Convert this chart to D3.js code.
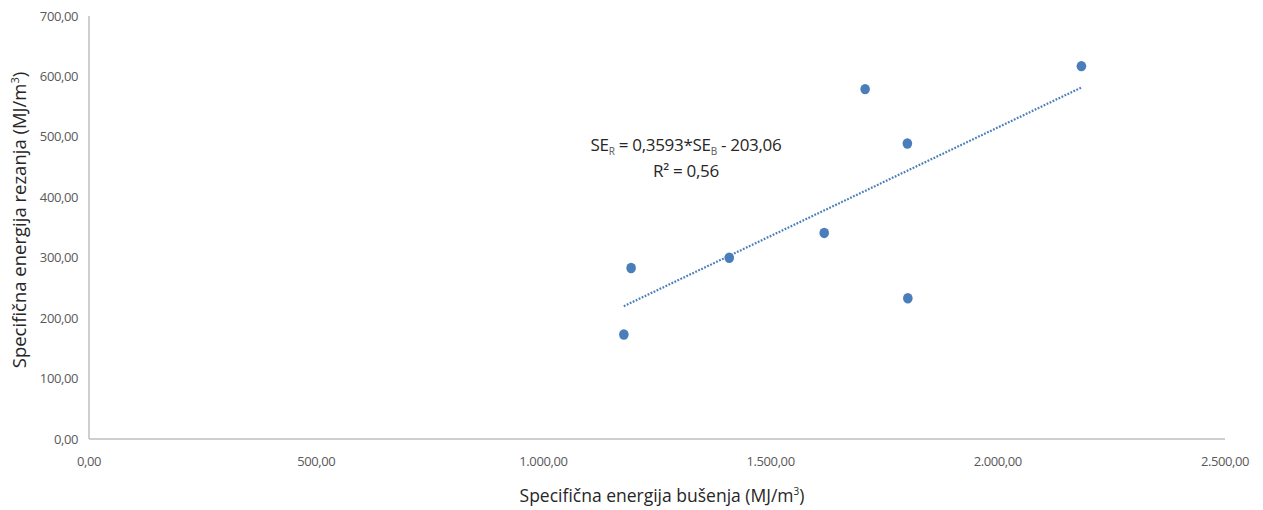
<!DOCTYPE html>
<html><head><meta charset="utf-8">
<script src="https://cdn.jsdelivr.net/npm/d3@7"></script>
<style>body{margin:0;background:#fff}text{font-family:"Open Sans",Lato,sans-serif}</style>
</head><body><svg id="c" width="1263" height="510"></svg>
<script>
const xValues = [1177, 1193, 1409, 1618, 1708, 1801, 1802, 2184];
const yValues = [173, 283, 300, 341, 579, 489, 233, 617];
const xTicks = [0, 500, 1000, 1500, 2000, 2500];
const yTicks = [0, 100, 200, 300, 400, 500, 600, 700];
const trendCoef = [0.3593, -203.06];
const eqLabel = "0,3593*SE";
const r2Label = "R² = 0,56";

const svg = d3.select("#c");
const L = 89, R = 1225, T = 16, B = 439;
const x = d3.scaleLinear().domain([0, 2500]).range([L, R]);
const y = d3.scaleLinear().domain([0, 700]).range([B, T]);
const fmt = v => d3.format(",.2f")(v).replace(/,/g, "#").replace(".", ",").replace(/#/g, ".");

svg.append("line").attr("x1", L).attr("x2", L).attr("y1", T).attr("y2", B).attr("stroke", "#bfbfbf").attr("stroke-width", 1.5);
svg.append("line").attr("x1", L).attr("x2", R).attr("y1", B).attr("y2", B).attr("stroke", "#bfbfbf").attr("stroke-width", 1.5);

svg.selectAll(".yt").data(yTicks).enter().append("text")
  .attr("x", L - 11).attr("y", d => y(d)).attr("dy", "0.35em").attr("text-anchor", "end")
  .attr("font-size", 13).attr("letter-spacing", -0.4).attr("fill", "#595959").text(fmt);
svg.selectAll(".xt").data(xTicks).enter().append("text")
  .attr("x", d => x(d)).attr("y", 466).attr("text-anchor", "middle")
  .attr("font-size", 13).attr("letter-spacing", -0.4).attr("fill", "#595959").text(fmt);

const xt = svg.append("text").attr("x", 662).attr("y", 502).attr("text-anchor", "middle").attr("font-size", 17.5).attr("fill", "#262626");
xt.append("tspan").text("Specifična energija bušenja (MJ/m");
xt.append("tspan").attr("font-size", 10).attr("dy", -7).text("3");
xt.append("tspan").attr("dy", 7).text(")");

const yt = svg.append("text").attr("transform", "translate(26,220) rotate(-90)").attr("text-anchor", "middle").attr("font-size", 18.5).attr("fill", "#262626");
yt.append("tspan").text("Specifična energija rezanja (MJ/m");
yt.append("tspan").attr("font-size", 11).attr("dy", -7).text("3");
yt.append("tspan").attr("dy", 7).text(")");

const x0 = d3.min(xValues), x1 = d3.max(xValues);
svg.append("line").attr("x1", x(x0)).attr("x2", x(x1))
  .attr("y1", y(trendCoef[0] * x0 + trendCoef[1])).attr("y2", y(trendCoef[0] * x1 + trendCoef[1]))
  .attr("stroke", "#4a7ebb").attr("stroke-width", 2.2).attr("stroke-dasharray", "1.8,1.5");

svg.selectAll(".pt").data(xValues).enter().append("ellipse")
  .attr("cx", d => x(d)).attr("cy", (d, i) => y(yValues[i])).attr("rx", 4.8).attr("ry", 5.2)
  .attr("fill", "#4a7ebb");

const eq = svg.append("text").attr("x", 686).attr("y", 151).attr("text-anchor", "middle").attr("font-size", 17).attr("letter-spacing", -0.3).attr("fill", "#262626");
eq.append("tspan").text("SE");
eq.append("tspan").attr("font-size", 10).attr("dy", 4).attr("fill", "#595959").text("R");
eq.append("tspan").attr("dy", -4).text(" = " + eqLabel);
eq.append("tspan").attr("font-size", 10).attr("dy", 4).attr("fill", "#595959").text("B");
eq.append("tspan").attr("dy", -4).text(" - 203,06");
svg.append("text").attr("x", 686).attr("y", 177).attr("text-anchor", "middle").attr("font-size", 17).attr("letter-spacing", -0.3).attr("fill", "#262626").text(r2Label);
</script></body></html>
